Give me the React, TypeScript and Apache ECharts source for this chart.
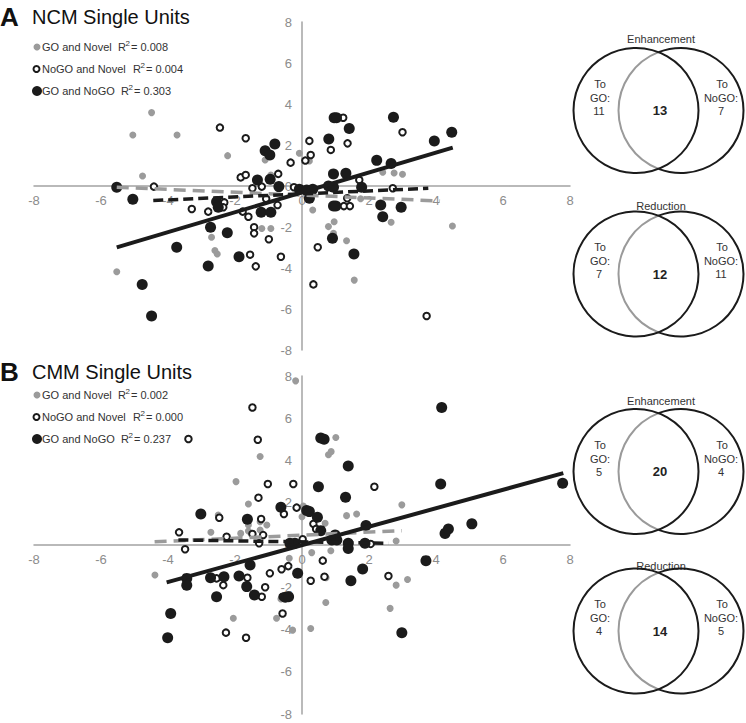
import React, { useEffect, useRef } from "react";
import * as echarts from "echarts";

// ---------- axis ----------
const AXIS_MIN = -8;
const AXIS_MAX = 8;
const AXIS_STEP = 2;

// ---------- legend ----------
const seriesNames = ["GO and Novel", "NoGO and Novel", "GO and NoGO"];
const ncmR2 = ["0.008", "0.004", "0.303"];
const cmmR2 = ["0.002", "0.000", "0.237"];
const panelLetters = ["A", "B"];
const panelTitles = ["NCM Single Units", "CMM Single Units"];

// ---------- NCM (panel A) ----------
const ncmGoNovel = [
  [-4.49, 3.58], [-5.05, 2.49], [-3.73, 2.49], [-2.22, 1.48], [-1.1, 1.27], [-0.08, 1.6],
  [-4.76, 0.49], [0.22, 1.22], [2.41, 0.67], [2.75, 0.63], [3.0, 0.57], [0.89, 0.67],
  [-5.53, -4.18], [-2.7, -2.5], [-2.53, -3.32], [-1.2, -2.07], [-0.93, -2.07], [0.32, -1.17],
  [0.79, -1.98], [0.96, -1.74], [0.94, -2.31], [1.33, -2.67], [1.56, -4.59], [2.66, -1.77],
  [4.49, -1.95], [1.75, -0.62], [-0.93, 0.54], [-2.6, -3.15],
];
const ncmNogoNovel = [
  [-2.45, 2.85], [-1.68, 2.33], [-0.34, 1.14], [1.23, 3.33], [3.0, 2.62], [0.22, 2.2],
  [0.86, 1.76], [1.36, 2.08], [0.26, 1.51], [0.1, 1.24], [-1.83, 0.42], [-1.68, 0.54],
  [-0.71, 0.59], [-1.48, -0.11], [-1.2, -0.03], [-0.24, -0.06], [1.71, 0.29], [2.71, -0.11],
  [1.35, -0.6], [1.25, -0.98], [1.43, -0.98], [-4.42, -0.03], [-3.29, -1.12], [-2.32, -0.8],
  [-2.35, -1.04], [-2.8, -1.25], [-1.77, -1.25], [-1.6, -1.5], [-1.07, -0.62], [-0.73, -0.93],
  [-1.43, -2.01], [-1.43, -2.31], [-0.99, -2.6], [-1.55, -3.35], [-1.38, -3.92], [-0.63, -3.45],
  [0.47, -2.99], [0.34, -4.8], [3.72, -6.34],
];
const ncmGoNogo = [
  [-0.81, 2.05], [-1.1, 1.72], [-0.96, 1.51], [0.96, 3.33], [1.03, 3.33], [1.41, 2.81],
  [2.73, 3.35], [3.95, 2.2], [4.47, 2.62], [0.8, 2.29], [2.23, 1.25], [2.66, 1.1],
  [0.94, 0.59], [1.31, 0.62], [-1.33, 0.29], [-0.95, 0.33], [-0.69, -0.03], [-0.08, -0.16],
  [0.14, -0.2], [0.32, -0.16], [0.22, -0.6], [0.79, 0.0], [0.94, -0.06], [1.78, -0.06],
  [0.94, -0.98], [1.01, -0.98], [2.35, -0.93], [2.96, -1.04], [2.41, -1.5], [0.91, -2.55],
  [1.55, -3.32], [-2.55, -0.77], [-2.5, -1.04], [-1.22, -1.28], [-0.93, -1.28], [-2.73, -2.01],
  [-2.23, -2.28], [-1.88, -3.45], [-2.8, -3.9], [-3.74, -2.99], [-5.53, -0.06], [-5.05, -0.65],
  [-4.77, -4.8], [-4.49, -6.34],
];
const ncmTrendGoNovel = [[-5.53, -0.06], [4.12, -0.73]];
const ncmTrendNogoNovel = [[-4.44, -0.71], [3.77, -0.11]];
const ncmTrendGoNogo = [[-5.53, -2.99], [4.5, 1.87]];

// ---------- CMM (panel B) ----------
const cmmGoNovel = [
  [-0.19, 7.77], [-1.25, 4.19], [-1.97, 3.0], [-1.6, 1.94], [-1.6, 0.95], [-1.25, 1.1],
  [-1.05, 0.95], [-2.72, 0.6], [-1.83, 0.55], [1.01, 5.09], [0.79, 4.27], [0.87, 4.42],
  [2.98, 1.9], [0.04, 1.85], [0.0, 1.34], [1.33, 1.39], [1.63, 1.47], [0.69, 1.03],
  [2.81, 0.19], [-2.5, 1.42], [-1.6, 0.66], [-1.25, 0.71], [0.86, -0.27], [0.29, -0.36],
  [-0.38, -0.63], [2.81, -1.9], [3.15, -1.63], [0.71, -2.72], [2.63, -3.0], [-4.39, -1.42],
  [-0.63, -2.56], [-2.05, -3.47], [-0.76, -3.47], [-0.28, -4.03], [0.26, -3.95], [0.72, -1.55],
];
const cmmNogoNovel = [
  [-1.48, 6.51], [-1.32, 4.98], [-3.39, 5.02], [-1.02, 2.89], [-0.26, 2.89], [-1.3, 2.24],
  [-0.16, 1.77], [-0.54, 1.47], [-2.47, 1.29], [-1.22, 1.23], [-3.67, 0.6], [-2.25, 0.39],
  [-1.48, 0.52], [-1.16, 0.47], [-1.28, 0.08], [-3.49, -0.2], [2.16, 2.76], [0.34, 1.0],
  [0.42, 0.76], [2.05, 0.05], [0.02, 0.27], [0.62, -0.74], [-0.41, -1.0], [-0.61, -1.15],
  [-0.96, -1.34], [0.26, -1.69], [0.67, -1.5], [2.58, -1.47], [-2.35, -1.9], [-1.63, -1.55],
  [-2.55, -1.58], [-1.1, -2.0], [-1.2, -2.45], [-0.58, -2.45], [-0.58, -3.24], [-2.27, -4.15],
  [-1.67, -4.39],
];
const cmmGoNogo = [
  [-0.63, 1.79], [-3.02, 1.47], [-1.63, 1.22], [4.17, 6.51], [0.56, 5.06], [0.66, 5.01],
  [1.38, 3.74], [0.49, 2.76], [4.14, 2.89], [7.78, 2.92], [1.3, 2.26], [0.14, 1.63],
  [0.22, 1.58], [0.46, 1.31], [0.56, 0.68], [1.91, 0.92], [5.07, 1.0], [4.27, 0.55],
  [4.37, 0.76], [0.99, 0.47], [1.38, 0.08], [1.38, -0.16], [1.88, 0.08], [0.89, 0.24],
  [1.04, 0.24], [-0.36, 0.08], [-0.21, 0.08], [-1.55, -0.95], [-0.13, -1.34], [1.46, -1.69],
  [1.81, -1.14], [-2.73, -1.55], [-2.33, -1.5], [-1.88, -1.47], [-1.65, -1.97], [-1.42, -2.37],
  [-0.5, -2.47], [-0.4, -2.45], [-2.55, -2.45], [-3.44, -1.58], [-3.44, -1.9], [-3.92, -3.24],
  [-4.01, -4.39], [3.7, -0.74], [2.98, -4.15],
];
const cmmTrendGoNovel = [[-4.4, 0.15], [2.98, 0.68]];
const cmmTrendNogoNovel = [[-3.69, 0.24], [2.58, 0.08]];
const cmmTrendGoNogo = [[-4.04, -1.77], [7.8, 3.4]];

// ---------- Venn counts: [to GO only, both, to NoGO only] ----------
const vennTitles = ["Enhancement", "Reduction", "Enhancement", "Reduction"];
const vennCounts = [
  [11, 13, 7],
  [7, 12, 11],
  [5, 20, 4],
  [4, 14, 5],
];

const FONT = "'Liberation Sans', Arial, Helvetica, sans-serif";
const GRAY = "#9b9b9b";
const BLACK = "#1b1b1b";

function legendGraphics(topY: number, r2: string[], rLeft: number[]) {
  const els: any[] = [];
  const rowGap = 22;
  const base = { fontSize: 11, fontFamily: FONT, fill: "#333", textVerticalAlign: "middle" };
  r2.forEach((val, i) => {
    const y = topY + i * rowGap;
    if (i === 0) {
      els.push({ type: "circle", shape: { cx: 37, cy: y, r: 3.5 }, style: { fill: GRAY } });
    } else if (i === 1) {
      els.push({ type: "circle", shape: { cx: 36.5, cy: y, r: 3 }, style: { fill: "#fff", stroke: BLACK, lineWidth: 2 } });
    } else {
      els.push({ type: "circle", shape: { cx: 37, cy: y, r: 5 }, style: { fill: BLACK } });
    }
    els.push({ type: "text", x: 42, y, style: { ...base, text: seriesNames[i] } });
    els.push({ type: "text", x: rLeft[i], y, style: { ...base, text: "R" } });
    els.push({ type: "text", x: rLeft[i] + 7.5, y: y - 4, style: { ...base, text: "2", fontSize: 8 } });
    els.push({ type: "text", x: rLeft[i] + 13, y, style: { ...base, text: "= " + val } });
  });
  return els;
}

function vennGraphics(titleY: number, cy: number, title: string, counts: number[]) {
  const lx = 636;
  const rx = 681;
  const r = 62.5;
  const half = (rx - lx) / 2;
  const theta = Math.acos(half / r);
  const txt = (x: number, y: number, t: string, extra: any = {}) => ({
    type: "text",
    x,
    y,
    style: { text: t, fontSize: 11, fontFamily: FONT, fill: "#333", textAlign: "center", textVerticalAlign: "middle", ...extra },
  });
  return [
    txt(661, titleY, title),
    { type: "arc", shape: { cx: rx, cy, r, startAngle: Math.PI + theta, endAngle: Math.PI - theta + 2 * Math.PI, clockwise: true }, style: { fill: "none", stroke: BLACK, lineWidth: 2 } },
    { type: "arc", shape: { cx: rx, cy, r, startAngle: Math.PI - theta, endAngle: Math.PI + theta, clockwise: true }, style: { fill: "none", stroke: "#9a9a9a", lineWidth: 2 } },
    { type: "circle", shape: { cx: lx, cy, r }, style: { fill: "none", stroke: BLACK, lineWidth: 2 } },
    txt(600, cy - 27, "To"),
    txt(600, cy - 13, "GO:"),
    txt(599, cy, String(counts[0])),
    txt(660, cy, String(counts[1]), { fontSize: 13, fontWeight: "bold", fill: "#222" }),
    txt(722, cy - 27, "To"),
    txt(721, cy - 13, "NoGO:"),
    txt(721, cy, String(counts[2])),
  ];
}

const GRIDS = [
  { left: 34, width: 536, top: 22, height: 328 },
  { left: 34, width: 536, top: 376, height: 338 },
];

export default function App() {
  const ref = useRef<HTMLDivElement>(null);

  useEffect(() => {
    if (!ref.current) return;
    const chart = echarts.init(ref.current, undefined, { renderer: "svg" });

    const axisBase = (gridIndex: number, isX: boolean) => {
      const g = GRIDS[gridIndex];
      return {
        type: "value",
        gridIndex,
        min: AXIS_MIN,
        max: AXIS_MAX,
        interval: AXIS_STEP,
        position: isX ? "bottom" : "left",
        // move the axis (line + labels) to the zero of the other axis
        offset: isX ? -g.height / 2 : -g.width / 2,
        axisLine: { onZero: false, lineStyle: { color: "#a3a3a3", width: 1.5 } },
        axisTick: { show: false },
        splitLine: { show: false },
        axisLabel: { color: "#8c8c8c", fontSize: 13, fontFamily: FONT, margin: isX ? 8 : 10 },
      };
    };

    const scatter = (name: string, data: number[][], idx: number, kind: number) => {
      const styles = [
        { symbolSize: 7, itemStyle: { color: GRAY, opacity: 1 } },
        { symbolSize: 6.5, itemStyle: { color: "#fff", borderColor: BLACK, borderWidth: 2, opacity: 1 } },
        { symbolSize: 11, itemStyle: { color: BLACK, opacity: 1 } },
      ];
      return {
        name,
        type: "scatter",
        xAxisIndex: idx,
        yAxisIndex: idx,
        data,
        symbol: "circle",
        z: 2 + kind,
        ...styles[kind],
      };
    };

    const trend = (data: number[][], idx: number, kind: number) => {
      const ls = [
        { color: GRAY, width: 3.5, type: [12, 7] },
        { color: BLACK, width: 3.5, type: [10, 5] },
        { color: BLACK, width: 4, type: "solid" },
      ];
      return {
        type: "line",
        xAxisIndex: idx,
        yAxisIndex: idx,
        data,
        showSymbol: false,
        symbol: "none",
        z: 6 + kind,
        lineStyle: ls[kind],
        silent: true,
      };
    };

    const graphic: any[] = [
      { type: "text", x: 0, y: 17, style: { text: panelLetters[0], fontSize: 26, fontWeight: "bold", fontFamily: FONT, fill: "#111", textVerticalAlign: "middle" } },
      { type: "text", x: 32, y: 17, style: { text: panelTitles[0], fontSize: 20, fontFamily: FONT, fill: "#111", textVerticalAlign: "middle" } },
      { type: "text", x: 0, y: 372, style: { text: panelLetters[1], fontSize: 26, fontWeight: "bold", fontFamily: FONT, fill: "#111", textVerticalAlign: "middle" } },
      { type: "text", x: 32, y: 372, style: { text: panelTitles[1], fontSize: 20, fontFamily: FONT, fill: "#111", textVerticalAlign: "middle" } },
      ...legendGraphics(47, ncmR2, [118, 133, 121]),
      ...legendGraphics(395, cmmR2, [118, 133, 121]),
      ...vennGraphics(39, 110.5, vennTitles[0], vennCounts[0]),
      ...vennGraphics(206, 274, vennTitles[1], vennCounts[1]),
      ...vennGraphics(401, 471.5, vennTitles[2], vennCounts[2]),
      ...vennGraphics(566, 631, vennTitles[3], vennCounts[3]),
    ];

    chart.setOption({
      animation: false,
      backgroundColor: "#fff",
      grid: GRIDS,
      xAxis: [axisBase(0, true), axisBase(1, true)],
      yAxis: [axisBase(0, false), axisBase(1, false)],
      series: [
        scatter(seriesNames[0], ncmGoNovel, 0, 0),
        scatter(seriesNames[1], ncmNogoNovel, 0, 1),
        scatter(seriesNames[2], ncmGoNogo, 0, 2),
        trend(ncmTrendGoNovel, 0, 0),
        trend(ncmTrendNogoNovel, 0, 1),
        trend(ncmTrendGoNogo, 0, 2),
        scatter(seriesNames[0], cmmGoNovel, 1, 0),
        scatter(seriesNames[1], cmmNogoNovel, 1, 1),
        scatter(seriesNames[2], cmmGoNogo, 1, 2),
        trend(cmmTrendGoNovel, 1, 0),
        trend(cmmTrendNogoNovel, 1, 1),
        trend(cmmTrendGoNogo, 1, 2),
      ],
      graphic,
    });

    return () => chart.dispose();
  }, []);

  return (
    <div
      ref={ref}
      style={{ position: "fixed", left: 0, top: 0, width: 746, height: 723, background: "#fff" }}
    />
  );
}
